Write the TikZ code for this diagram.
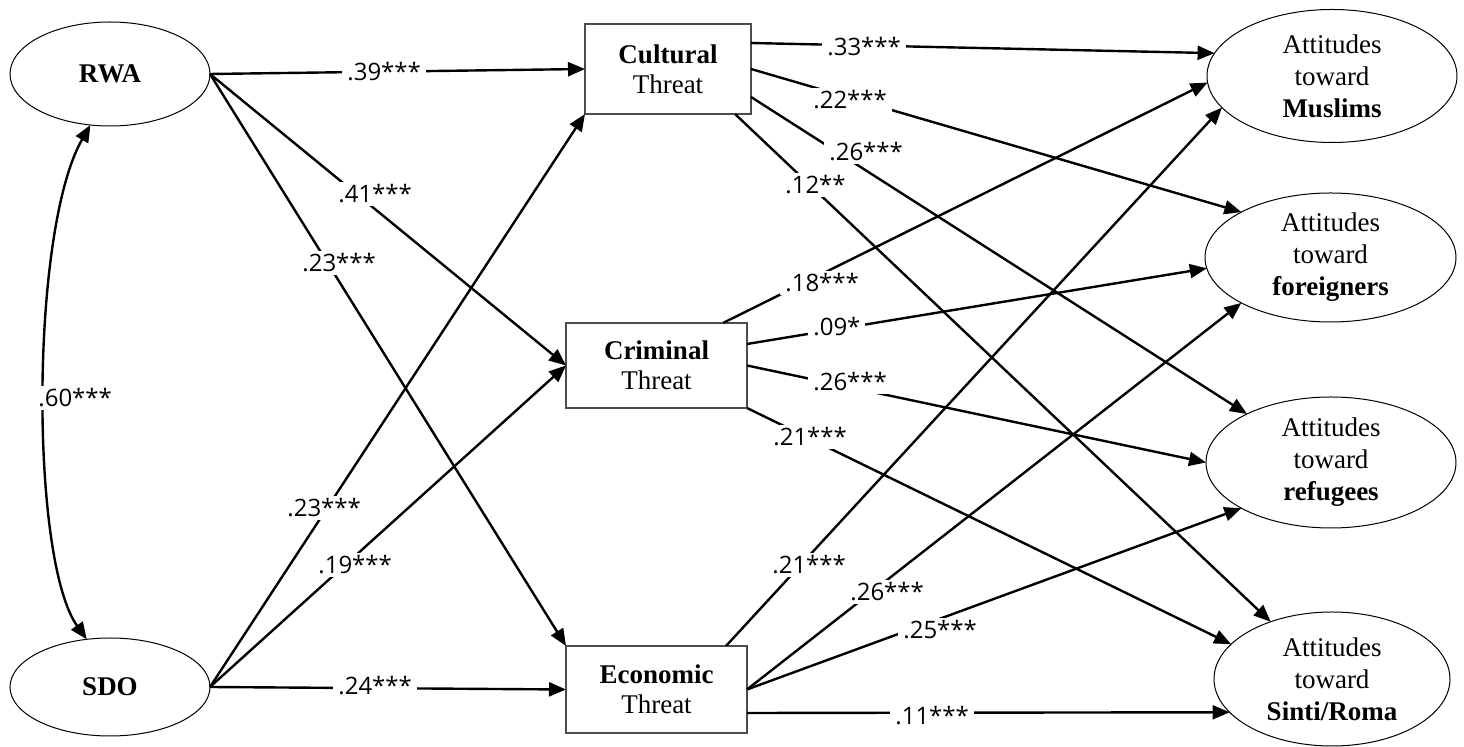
\documentclass[tikz,border=0pt]{standalone}
\usepackage{fontspec}
\setmainfont{Liberation Serif}
\newfontfamily\coeffont{Open Sans}
\usetikzlibrary{arrows.meta,shapes.geometric}

\newcommand\coefval[1]{#1\hspace{5pt}}

\begin{document}
\begin{tikzpicture}[x=0.5pt,y=-0.5pt,
  latent/.style={ellipse,draw,line width=0.5pt,inner sep=0pt,outer sep=0pt,
    font=\fontsize{13.5}{16}\selectfont,align=center},
  threat/.style={rectangle,draw=black!70,line width=0.6pt,inner sep=0pt,outer sep=0pt,
    font=\fontsize{13.5}{15}\selectfont,align=center},
  link/.style={line width=1.2pt,-{Triangle[length=8.5pt,width=7pt]}},
  corr/.style={line width=1.2pt,{Triangle[length=8.5pt,width=7pt]}-{Triangle[length=8.5pt,width=7pt]}},
  coef/.style={fill=white,anchor=west,inner xsep=2.5pt,inner ysep=1.5pt,
    font=\coeffont\fontsize{12}{14}\selectfont}
]
\useasboundingbox (0,0) rectangle (1464,747);

% exogenous predictors
\node[latent,minimum width=100pt,minimum height=52pt] (rwa) at (110,74) {\textbf{RWA}};
\node[latent,minimum width=100pt,minimum height=49pt] (sdo) at (110,687) {\textbf{SDO}};

% threat mediators
\node[threat,minimum width=83pt,minimum height=45pt] (cult) at (668,69) {\textbf{Cultural}\\Threat};
\node[threat,minimum width=90.5pt,minimum height=42.5pt] (crim) at (656.5,365.5) {\textbf{Criminal}\\Threat};
\node[threat,minimum width=90.5pt,minimum height=43.5pt] (econ) at (656.5,689.5) {\textbf{Economic}\\Threat};

% outcome attitudes
\node[latent,minimum width=125pt,minimum height=66.5pt] (mus) at (1332,76) {Attitudes\\toward\\\textbf{Muslims}};
\node[latent,minimum width=125.5pt,minimum height=64.5pt] (for) at (1330.5,257.5) {Attitudes\\toward\\\textbf{foreigners}};
\node[latent,minimum width=125pt,minimum height=65.5pt] (ref) at (1331,462.5) {Attitudes\\toward\\\textbf{refugees}};
\node[latent,minimum width=118pt,minimum height=67pt] (rom) at (1332,679) {Attitudes\\toward\\\textbf{Sinti/Roma}};

% correlation between predictors
\draw[corr] (rwa.249.5) .. controls (30,230) and (30,560) .. (sdo.116.6);

% predictors -> threats
\draw[link] (rwa.east) -- (cult.west);
\draw[link] (rwa.east) -- (crim.west);
\draw[link] (rwa.east) -- (econ.north west);
\draw[link] (sdo.east) -- (cult.south west);
\draw[link] (sdo.east) -- (crim.west);
\draw[link] (sdo.east) -- (econ.west);

% cultural threat -> attitudes
\draw[link] ([yshift=13pt]cult.east) -- (mus.169);
\draw[link] (cult.east) -- (for.153.3);
\draw[link] ([yshift=-14pt]cult.east) -- (ref.150.9);
\draw[link] ([xshift=-8pt]cult.south east) -- (rom.137.3);

% criminal threat -> attitudes
\draw[link] ([xshift=-12pt]crim.north east) -- (mus.183);
\draw[link] ([yshift=10.75pt]crim.east) -- (for.185.2);
\draw[link] (crim.east) -- (ref.180);
\draw[link] (crim.south east) -- (rom.161.1);

% economic threat -> attitudes
\draw[link] ([xshift=-10.5pt]econ.north east) -- (mus.196);
\draw[link] (econ.east) -- (for.207.2);
\draw[link] (econ.east) -- (ref.207.1);
\draw[link] ([yshift=-11.75pt]econ.east) -- (rom.198);

% path coefficients
\node[coef] (c60)  at (33,398)  {\coefval{.60***}};
\node[coef] (c39)  at (342,72)  {\coefval{.39***}};
\node[coef] (c41)  at (333,194) {\coefval{.41***}};
\node[coef] (c23a) at (297,263) {\coefval{.23***}};
\node[coef] (c23b) at (282,508) {\coefval{.23***}};
\node[coef] (c19)  at (313,565) {\coefval{.19***}};
\node[coef] (c24)  at (333,686) {\coefval{.24***}};
\node[coef] (c33)  at (822,47)  {\coefval{.33***}};
\node[coef] (c22)  at (808,100) {\coefval{.22***}};
\node[coef] (c26a) at (824,152) {\coefval{.26***}};
\node[coef] (c12)  at (780,185) {\coefval{.12**}};
\node[coef] (c18)  at (780,283) {\coefval{.18***}};
\node[coef] (c09)  at (808,327) {\coefval{.09*}};
\node[coef] (c26b) at (808,382) {\coefval{.26***}};
\node[coef] (c21a) at (768,437) {\coefval{.21***}};
\node[coef] (c21b) at (767,565) {\coefval{.21***}};
\node[coef] (c26c) at (845,592) {\coefval{.26***}};
\node[coef] (c25)  at (898,630) {\coefval{.25***}};
\node[coef] (c11)  at (890,716) {\coefval{.11***}};
\end{tikzpicture}
\end{document}
